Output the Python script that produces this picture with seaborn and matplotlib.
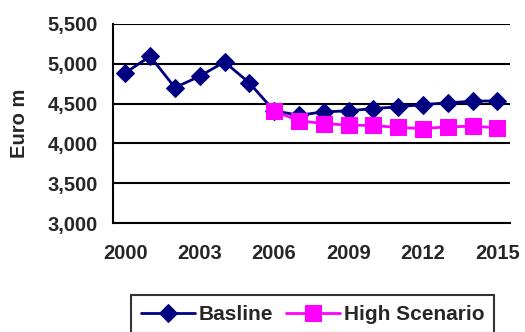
import numpy as np
import pandas as pd
import matplotlib
matplotlib.use('Agg')
from matplotlib import pyplot as plt
from matplotlib.ticker import FuncFormatter, MultipleLocator
import seaborn as sns

years = list(range(2000, 2016))
baseline = [4885, 5094, 4701, 4843, 5023, 4760, 4409, 4354, 4396, 4409,
            4438, 4459, 4488, 4509, 4530, 4534]
high_years = list(range(2006, 2016))
high_scenario = [4409, 4283, 4250, 4229, 4225, 4200, 4187, 4208, 4216, 4196]


def main():
    sns.set_style('white')
    plt.rcParams['font.family'] = ['Liberation Sans', 'DejaVu Sans']
    plt.rcParams['font.weight'] = 'bold'

    fig = plt.figure(figsize=(5.25, 3.32), dpi=100)
    ax = fig.add_axes([0.215, 0.328, 0.756, 0.6])

    base_df = pd.DataFrame({'year': years, 'value': baseline})
    high_df = pd.DataFrame({'year': high_years, 'value': high_scenario})

    sns.lineplot(data=base_df, x='year', y='value', ax=ax, color='#000080',
                 lw=2, marker='D', markersize=9, markeredgecolor='#000080',
                 label='Basline')
    sns.lineplot(data=high_df, x='year', y='value', ax=ax, color='#FF00FF',
                 lw=2, marker='s', markersize=11, markeredgecolor='#FF00FF',
                 label='High Scenario')

    ax.set_xlim(1999.5, 2015.5)
    ax.set_ylim(3000, 5500)
    ax.yaxis.set_major_locator(MultipleLocator(500))
    ax.yaxis.set_major_formatter(FuncFormatter(lambda v, p: f'{int(v):,}'))
    ax.set_xticks(years[::3])
    ax.set_xticks(np.arange(1999.5, 2016, 1), minor=True)
    ax.tick_params(axis='x', which='major', length=0, pad=15, labelsize=14.5)
    ax.tick_params(axis='x', which='minor', length=7, width=1.5,
                   direction='out', color='black')
    ax.tick_params(axis='y', length=7, width=1.5, direction='out',
                   color='black', labelsize=14.5, pad=4)
    ax.grid(axis='y', color='black', lw=1.5)
    ax.set_axisbelow(True)

    for s in ['top', 'right']:
        ax.spines[s].set_visible(False)
    for s in ['left', 'bottom']:
        ax.spines[s].set_color('black')
        ax.spines[s].set_linewidth(1.5)

    ax.set_xlabel('')
    ax.set_ylabel('Euro m', fontsize=14.5, fontweight='bold', labelpad=13)

    ax.get_legend().remove()
    h, l = ax.get_legend_handles_labels()
    leg = fig.legend(h, l, loc='upper center', bbox_to_anchor=(0.596, 0.11),
                     ncol=2, frameon=True, fancybox=False, fontsize=15,
                     handlelength=2.6, columnspacing=0.6, handletextpad=0.2,
                     borderpad=0.45, borderaxespad=0)
    leg.get_frame().set_edgecolor('black')
    leg.get_frame().set_linewidth(1.5)

    fig.savefig('out.png', dpi=100)


if __name__ == '__main__':
    main()
